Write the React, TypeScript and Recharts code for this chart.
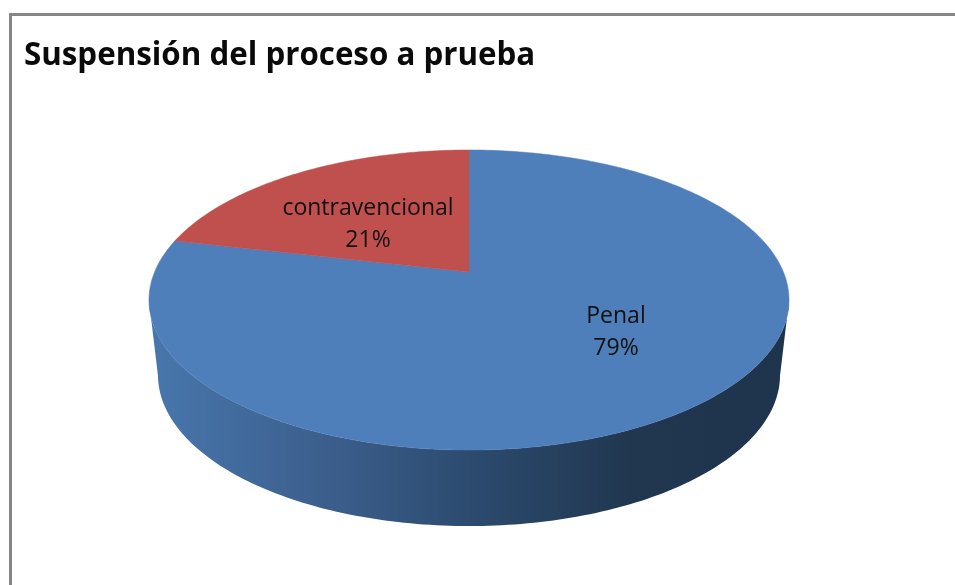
import React from 'react';
import {Cell, Pie, PieChart} from 'recharts';

const chartTitle = 'Suspensión del proceso a prueba';
const categories = ['Penal', 'contravencional'];
const shares = [78.6, 21.4];
const sliceColors = ['#4e7fba', '#c0504d'];

const tableData = categories.map((name, i) => ({name, value: shares[i]}));

// perspective of the tilted disc, apex sits above the middle of the ellipse
const PERSPECTIVE = -0.1867;
const SQUASH_X = 0.9825;
const SQUASH_Y = 0.4525;
const MIDDLE_DROP = 28;
const DEPTH_DROP = 75;
const BOTTOM_SHRINK = 311 / 320;
const BOTTOM_GROW_Y = 151 / 150;

function project(cx: number, cy: number, r: number, angle: number, frac = 1) {
    const rad = angle * Math.PI / 180;
    const u = Math.cos(rad) * frac;
    const v = -Math.sin(rad) * frac;
    const d = 1 + PERSPECTIVE * v;
    return {x: cx + r * SQUASH_X * u / d, y: cy + r * SQUASH_Y * v / d};
}

function sampleAngles(start: number, end: number) {
    const steps = Math.max(2, Math.ceil(Math.abs(end - start)));
    return Array.from({length: steps + 1}, (_, i) => start + (end - start) * i / steps);
}

function TopSlice(props: any) {
    const {cx, cy, outerRadius, startAngle, endAngle, fill} = props;
    const pts = sampleAngles(startAngle, endAngle).map(a => project(cx, cy, outerRadius, a));
    const d = `M${cx},${cy} ` + pts.map(p => `L${p.x},${p.y}`).join(' ') + ' Z';
    return <path d={d} fill={fill} stroke={fill} strokeWidth={0.5}/>;
}

function WallSlice(props: any) {
    const {cx, cy, outerRadius, startAngle, endAngle} = props;
    const midY = cy + MIDDLE_DROP;
    const front = sampleAngles(startAngle, endAngle)
        .map(a => project(cx, cy, outerRadius, a))
        .filter(p => p.y >= midY);
    if (front.length < 2) return null;
    const back = front.map(p => ({
        x: cx + (p.x - cx) * BOTTOM_SHRINK,
        y: midY + DEPTH_DROP + (p.y - midY) * BOTTOM_GROW_Y,
    })).reverse();
    const d = 'M' + [...front, ...back].map(p => `${p.x},${p.y}`).join(' L') + ' Z';
    return <path d={d} fill="url(#wallShade)"/>;
}

function SliceLabel(props: any) {
    const {cx, cy, name, percent, index} = props;
    // Excel puts these by hand, not on the slice middle
    const x = cx + (index === 0 ? 147 : -101);
    const y = cy + (index === 0 ? 51 : -57);
    return (
        <text x={x} y={y} textAnchor="middle" fontFamily="'Open Sans', sans-serif" fontSize={23} fill="#111">
            <tspan x={x}>{name}</tspan>
            <tspan x={x} dy={32}>{`${Math.round(percent * 100)}%`}</tspan>
        </text>
    );
}

export default function App(): React.ReactElement {
    return (
        <div style={{position: 'absolute', left: 0, top: 0, width: 955, height: 585, overflow: 'hidden', background: '#fff', filter: 'blur(0.4px)'}}>
            <div style={{
                position: 'absolute', left: 9, top: 13, width: 1000, height: 700,
                border: '3px solid #868686', boxSizing: 'border-box',
            }}/>
            <div style={{
                position: 'absolute', left: 24, top: 31, whiteSpace: 'nowrap',
                fontFamily: "'Open Sans', sans-serif", fontWeight: 700, fontSize: 31.3, lineHeight: '44px', color: '#0a0a0a',
            }}>
                {chartTitle}
            </div>
            <PieChart width={955} height={585} margin={{top: 0, right: 0, bottom: 0, left: 0}} style={{position: 'absolute', left: 0, top: 0}}>
                <defs>
                    <linearGradient id="wallShade" x1="150" y1="0" x2="789" y2="0" gradientUnits="userSpaceOnUse">
                        <stop offset="0%" stopColor="#4877ad"/>
                        <stop offset="25%" stopColor="#3d6190"/>
                        <stop offset="50%" stopColor="#2c4b6f"/>
                        <stop offset="75%" stopColor="#213750"/>
                        <stop offset="100%" stopColor="#1e334c"/>
                    </linearGradient>
                </defs>
                <Pie data={tableData} dataKey="value" nameKey="name" cx={469} cy={272} outerRadius={320}
                     startAngle={90} endAngle={-270} isAnimationActive={false} shape={WallSlice} stroke="none"/>
                <Pie data={tableData} dataKey="value" nameKey="name" cx={469} cy={272} outerRadius={320}
                     startAngle={90} endAngle={-270} isAnimationActive={false} shape={TopSlice} stroke="none"
                     label={SliceLabel} labelLine={false}>
                    {tableData.map((row, i) => <Cell key={row.name} fill={sliceColors[i]}/>)}
                </Pie>
            </PieChart>
        </div>
    );
}
